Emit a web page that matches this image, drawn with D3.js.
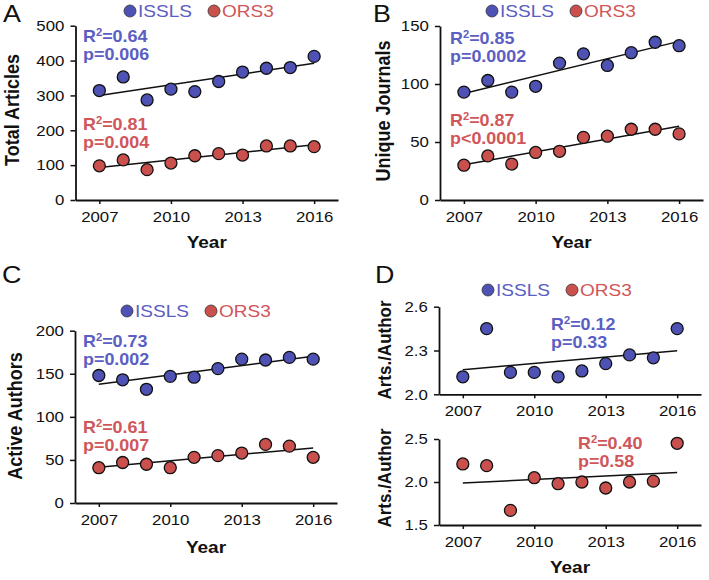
<!DOCTYPE html>
<html>
<head>
<meta charset="utf-8">
<script src="https://cdn.jsdelivr.net/npm/d3@7"></script>
<style>
  body { margin: 0; background: #fff; }
  svg text { font-family: "Liberation Sans", Arial, sans-serif; }
</style>
</head>
<body>
<svg id="fig" width="709" height="580"></svg>
<script>
// values
const years = [2007, 2008, 2009, 2010, 2011, 2012, 2013, 2014, 2015, 2016];
const yearTicks = [2007, 2010, 2013, 2016];
const seriesNames = ["ISSLS", "ORS3"];

const articlesISSLS = [314, 353, 287, 318, 311, 340, 367, 378, 380, 412];
const articlesORS3 = [98, 115, 87, 106, 127, 133, 129, 155, 155, 153];
const journalsISSLS = [93, 103, 93, 98, 118, 126, 116, 127, 136, 133];
const journalsORS3 = [30, 38, 31, 41, 42, 54, 55, 61, 61, 57];
const authorsISSLS = [148, 143, 132, 147, 146, 156, 167, 166, 169, 167];
const authorsORS3 = [41, 47, 45, 41, 53, 55, 58, 68, 66, 53];
const perAuthorISSLS = [2.12, 2.45, 2.15, 2.15, 2.12, 2.16, 2.21, 2.27, 2.25, 2.45];
const perAuthorORS3 = [2.21, 2.19, 1.67, 2.05, 1.98, 2.0, 1.93, 2.0, 2.01, 2.45];

const r2ISSLS = ["0.64", "0.85", "0.73", "0.12"];
const pISSLS = ["p=0.006", "p=0.0002", "p=0.002", "p=0.33"];
const r2ORS3 = ["0.81", "0.87", "0.61", "0.40"];
const pORS3 = ["p=0.004", "p<0.0001", "p=0.007", "p=0.58"];

const SX = 1.12;  // text in the source is a bit wide
const BLUE = "#4e52b5", BLUE_TEXT = "#5b5ec2";
const RED = "#c9504d", RED_TEXT = "#d0565a";

const svg = d3.select("#fig");

function addText(str, x, y, size, opts = {}) {
    return svg.append("text")
        .attr("transform", `translate(${x},${y}) scale(${SX},1)`)
        .attr("font-size", size)
        .attr("font-weight", opts.weight || "normal")
        .attr("fill", opts.fill || "#111")
        .attr("text-anchor", opts.anchor || "start")
        .text(str);
}

function addStats(x, y, r2, p, fill) {
    const t = svg.append("text")
        .attr("transform", `translate(${x},${y}) scale(${SX},1)`)
        .attr("font-size", 16)
        .attr("font-weight", "bold")
        .attr("fill", fill);
    t.append("tspan").text("R");
    t.append("tspan").attr("font-size", 10).attr("dy", -6).text("2");
    t.append("tspan").attr("dy", 6).text("=" + r2);
    addText(p, x, y + 18, 16, { weight: "bold", fill: fill });
}

function addLegend(cx, cy) {
    const cols = [[BLUE, BLUE_TEXT], [RED, RED_TEXT]];
    seriesNames.forEach((name, i) => {
        const x = cx + i * 84;
        svg.append("circle")
            .attr("cx", x).attr("cy", cy).attr("r", 6)
            .attr("fill", cols[i][0])
            .attr("stroke", "#333").attr("stroke-width", 0.8);
        addText(name, x + 8, cy + 6, 17, { fill: cols[i][1] });
    });
}

function fit(vals) {
    const mx = d3.mean(years), my = d3.mean(vals);
    const slope = d3.sum(years, (t, i) => (t - mx) * (vals[i] - my)) /
        d3.sum(years, t => (t - mx) * (t - mx));
    return t => my + slope * (t - mx);
}

function drawPlot(cfg) {
    const x = d3.scaleLinear().domain([2006, 2017]).range([cfg.x0, cfg.x1]);
    const y = d3.scaleLinear().domain(cfg.domain).range([cfg.yBottom, cfg.yTop]);

    const gx = svg.append("g")
        .attr("transform", `translate(0,${cfg.yBottom})`)
        .call(d3.axisBottom(x).tickValues(yearTicks).tickFormat(d3.format("d"))
            .tickSize(4).tickPadding(7).tickSizeOuter(0));
    const gy = svg.append("g")
        .attr("transform", `translate(${cfg.x0},0)`)
        .call(d3.axisLeft(y).tickValues(cfg.ticks).tickFormat(cfg.fmt)
            .tickSize(5).tickPadding(5).tickSizeOuter(0));

    [gx, gy].forEach(g => {
        g.attr("font-family", null).attr("font-size", 15);
        g.select(".domain").attr("stroke", "#111").attr("stroke-width", 1.8);
        g.selectAll(".tick line").attr("stroke", "#111").attr("stroke-width", 1.5);
        g.selectAll(".tick text").attr("fill", "#111")
            .attr("transform", `scale(${SX},1)`);
    });

    svg.append("text")
        .attr("transform", `translate(${cfg.titleX},${cfg.titleY}) rotate(-90) scale(1,${SX})`)
        .attr("text-anchor", "middle")
        .attr("font-size", cfg.titleSize || 18)
        .attr("font-weight", "bold")
        .attr("fill", "#111")
        .text(cfg.title);

    if (cfg.yearY) {
        addText("Year", (cfg.x0 + cfg.x1) / 2, cfg.yearY, 17,
            { weight: "bold", anchor: "middle" });
    }

    cfg.series.forEach(s => {
        const f = fit(s.values);
        const ends = [years[0], years[years.length - 1]];
        svg.append("path")
            .attr("d", d3.line().x(t => x(t)).y(t => y(f(t)))(ends))
            .attr("fill", "none")
            .attr("stroke", "#111")
            .attr("stroke-width", 1.5);

        svg.append("g")
            .selectAll("circle")
            .data(s.values)
            .enter()
            .append("circle")
            .attr("cx", (d, i) => x(years[i]))
            .attr("cy", d => y(d))
            .attr("r", 6)
            .attr("fill", s.color)
            .attr("stroke", "#111")
            .attr("stroke-width", 1.3);
    });
}

const intFmt = d3.format("d");
const decFmt = d3.format(".1f");

// A
addText("A", 3, 22, 24);
addLegend(130, 11);
drawPlot({
    x0: 75.5, x1: 338, yTop: 25.7, yBottom: 200, domain: [0, 500],
    ticks: [0, 100, 200, 300, 400, 500], fmt: intFmt,
    title: "Total Articles", titleX: 19, titleY: 110, yearY: 248,
    series: [{ values: articlesISSLS, color: BLUE }, { values: articlesORS3, color: RED }]
});
addStats(83, 42, r2ISSLS[0], pISSLS[0], BLUE_TEXT);
addStats(83, 130, r2ORS3[0], pORS3[0], RED_TEXT);

// B
addText("B", 373, 22, 24);
addLegend(492, 11);
drawPlot({
    x0: 440, x1: 703, yTop: 26, yBottom: 200, domain: [0, 150],
    ticks: [0, 50, 100, 150], fmt: intFmt,
    title: "Unique Journals", titleX: 390, titleY: 111, yearY: 248,
    series: [{ values: journalsISSLS, color: BLUE }, { values: journalsORS3, color: RED }]
});
addStats(450, 44, r2ISSLS[1], pISSLS[1], BLUE_TEXT);
addStats(450, 126, r2ORS3[1], pORS3[1], RED_TEXT);

// C
addText("C", 2, 283, 24);
addLegend(127, 311);
drawPlot({
    x0: 75, x1: 337, yTop: 330.7, yBottom: 503, domain: [0, 200],
    ticks: [0, 50, 100, 150, 200], fmt: intFmt,
    title: "Active Authors", titleX: 22, titleY: 416, yearY: 553,
    series: [{ values: authorsISSLS, color: BLUE }, { values: authorsORS3, color: RED }]
});
addStats(83, 347, r2ISSLS[2], pISSLS[2], BLUE_TEXT);
addStats(83, 433, r2ORS3[2], pORS3[2], RED_TEXT);

// D
addText("D", 375, 283, 24);
addLegend(488, 290);
drawPlot({
    x0: 439, x1: 701, yTop: 306.7, yBottom: 394.3, domain: [2.0, 2.6],
    ticks: [2.0, 2.3, 2.6], fmt: decFmt,
    title: "Arts./Author", titleX: 391, titleY: 350, titleSize: 17,
    series: [{ values: perAuthorISSLS, color: BLUE }]
});
drawPlot({
    x0: 439, x1: 701, yTop: 439, yBottom: 525, domain: [1.5, 2.5],
    ticks: [1.5, 2.0, 2.5], fmt: decFmt,
    title: "Arts./Author", titleX: 391, titleY: 478, titleSize: 17, yearY: 573,
    series: [{ values: perAuthorORS3, color: RED }]
});
addStats(551, 330, r2ISSLS[3], pISSLS[3], BLUE_TEXT);
addStats(578, 449, r2ORS3[3], pORS3[3], RED_TEXT);
</script>
</body>
</html>
